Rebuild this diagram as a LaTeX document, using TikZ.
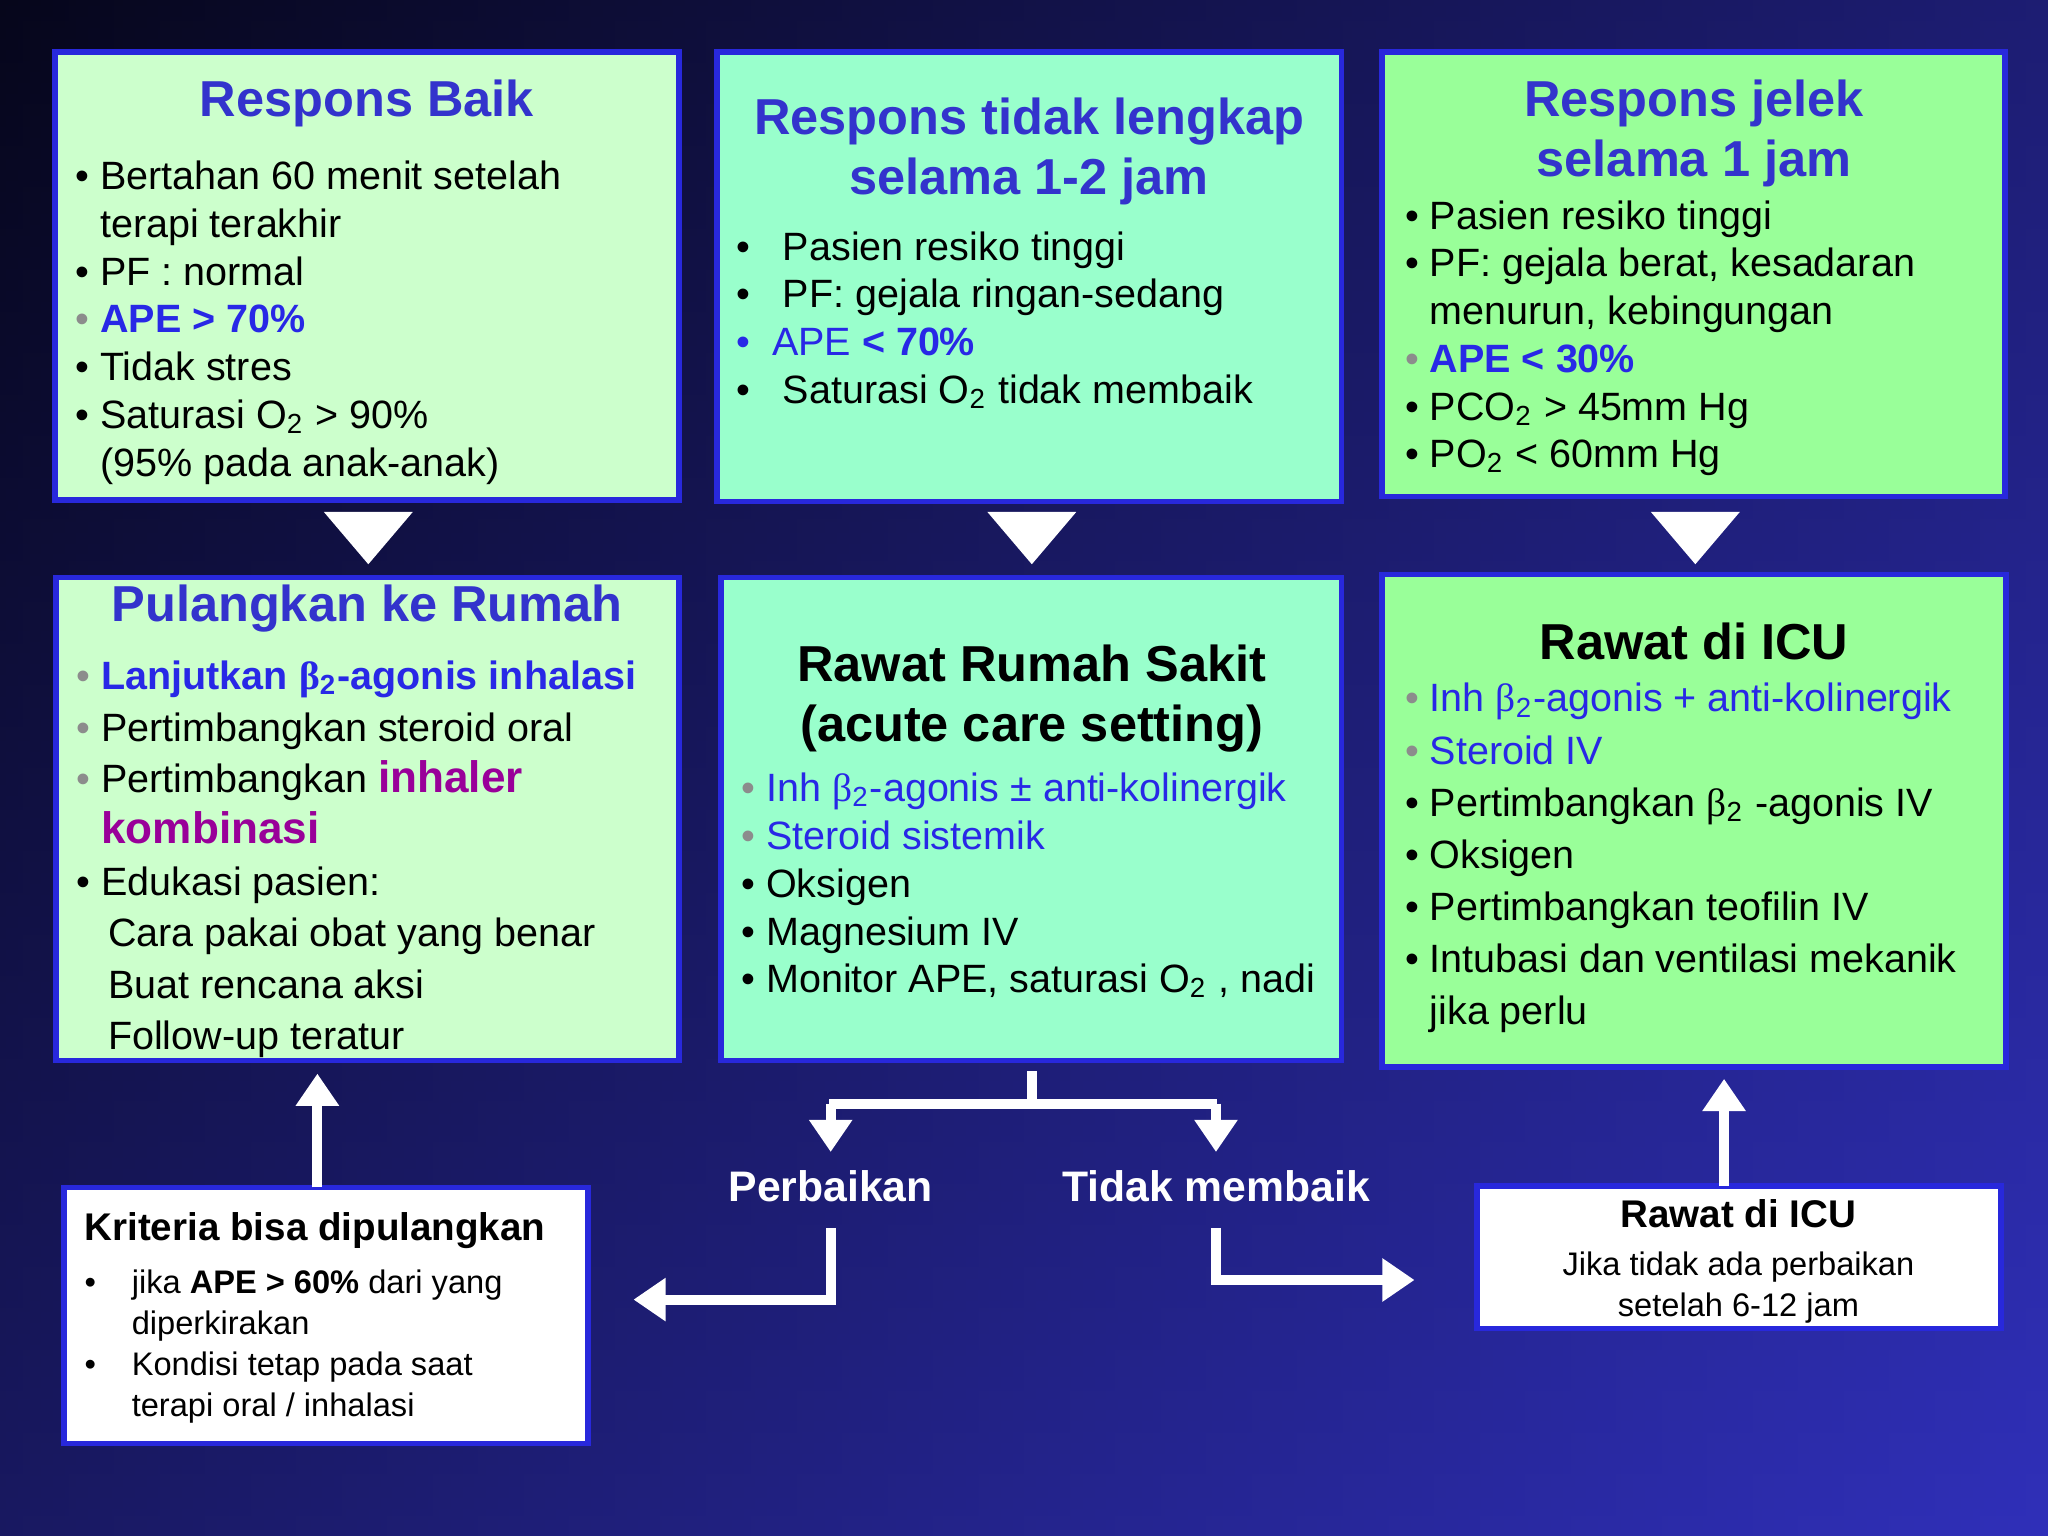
\documentclass[tikz,border=0pt]{standalone}
\usepackage{fontspec}
\setmainfont{Liberation Sans}
\newfontfamily\grk{Liberation Serif}
\usetikzlibrary{arrows.meta}
\definecolor{ttl}{RGB}{51,51,204}
\definecolor{apeb}{RGB}{40,40,230}
\definecolor{purp}{RGB}{153,0,153}
\definecolor{gb}{RGB}{140,140,140}
\definecolor{gA}{RGB}{204,255,204}
\definecolor{gB}{RGB}{153,255,204}
\definecolor{gC}{RGB}{153,255,153}
\newcommand\bu{\textbullet\ }
\newcommand\gbu{{\color{gb}\textbullet}\ }
\newcommand\ind{\phantom{\textbullet\ }}
\newcommand\sub[1]{\textsubscript{#1}}
\newcommand\bet{{\grk β}}
\begin{document}
\begin{tikzpicture}[x=0.01cm,y=-0.01cm,
 box/.style={draw={rgb,255:red,40;green,40;blue,220},line width=1.2pt},
 ttlf/.style={font=\fontsize{11pt}{13pt}\selectfont\bfseries,text=ttl,align=center},
 body/.style={font=\fontsize{8.6pt}{10.4pt}\selectfont,align=left,anchor=west,inner sep=0},
 small/.style={font=\fontsize{7.1pt}{8.9pt}\selectfont,align=left,anchor=west,inner sep=0},
 tri/.style={fill=white},
 wl/.style={white,line width=2.2pt},
 wa/.style={white,line width=2.2pt,-{Triangle[length=7pt,width=9pt]}}]
\shade[top color={rgb,255:red,8;green,8;blue,30},bottom color={rgb,255:red,45;green,45;blue,170}] (0,0) rectangle (1568,1176);
\shade[left color={rgb,255:red,5;green,5;blue,25},right color={rgb,255:red,50;green,50;blue,200},opacity=0.5] (0,0) rectangle (1568,1176);
% boxes
\filldraw[box,fill=gA] (42,40) rectangle (520,383);
\filldraw[box,fill=gB] (549,40) rectangle (1027,384);
\filldraw[box,fill=gC] (1058,40) rectangle (1535,380);
\filldraw[box,fill=gA] (43,442) rectangle (520,812);
\filldraw[box,fill=gB] (552,442) rectangle (1027,812);
\filldraw[box,fill=gC] (1058,440) rectangle (1536,817);
\filldraw[box,fill=white] (49,909) rectangle (450,1105);
\filldraw[box,fill=white] (1131,908) rectangle (1532,1017);
% triangles
\fill[tri] (248,392) -- (316,392) -- (282,432) -- cycle;
\fill[tri] (756,392) -- (824,392) -- (790,432) -- cycle;
\fill[tri] (1264,392) -- (1332,392) -- (1298,432) -- cycle;
% box1
\node[ttlf] (t1) at (281,79) {Respons Baik};
\node[body] (b1) at (57,247) {\bu Bertahan 60 menit setelah\\\ind terapi terakhir\\\bu PF : normal\\\gbu{\color{apeb}\bfseries APE > 70\%}\\\bu Tidak stres\\\bu Saturasi O\sub{2} > 90\%\\\ind (95\% pada anak-anak)};
% box2
\node[ttlf] (t2) at (788,116) {Respons tidak lengkap\\selama 1-2 jam};
\node[body] (b2) at (563,245) {\bu\ \ Pasien resiko tinggi\\\bu\ \ PF: gejala ringan-sedang\\{\color{apeb}\textbullet\ \ APE {\bfseries< 70\%}}\\\bu\ \ Saturasi O\sub{2} tidak membaik};
% box3
\node[ttlf] (t3) at (1297,102) {Respons jelek\\selama 1 jam};
\node[body] (b3) at (1075,259) {\bu Pasien resiko tinggi\\\bu PF: gejala berat, kesadaran\\\ind menurun, kebingungan\\\gbu{\color{apeb}\bfseries APE < 30\%}\\\bu PCO\sub{2} > 45mm Hg\\\bu PO\sub{2} < 60mm Hg};
% box4
\node[ttlf] (t4) at (281,466) {Pulangkan ke Rumah};
\node[body,font=\fontsize{8.6pt}{11.2pt}\selectfont] (b4) at (58,658) {\gbu{\color{apeb}\bfseries Lanjutkan \bet\sub{2}-agonis inhalasi}\\\gbu Pertimbangkan steroid oral\\\gbu Pertimbangkan {\color{purp}\bfseries\fontsize{9.6pt}{11pt}\selectfont inhaler}\\\ind{\color{purp}\bfseries\fontsize{9.6pt}{11pt}\selectfont kombinasi}\\\bu Edukasi pasien:\\\ind\,Cara pakai obat yang benar\\\ind\,Buat rencana aksi\\\ind\,Follow-up teratur};
% box5
\node[ttlf,text=black] (t5) at (790,535) {Rawat Rumah Sakit\\(acute care setting)};
\node[body] (b5) at (567,678) {\gbu{\color{apeb}Inh \bet\sub{2}-agonis ± anti-kolinergik}\\\gbu{\color{apeb}Steroid sistemik}\\\bu Oksigen\\\bu Magnesium IV\\\bu Monitor APE, saturasi O\sub{2} , nadi};
% box6
\node[ttlf,text=black] (t6) at (1297,491) {Rawat di ICU};
\node[body,font=\fontsize{8.6pt}{11.35pt}\selectfont] (b6) at (1075,657) {\gbu{\color{apeb}Inh \bet\sub{2}-agonis + anti-kolinergik}\\\gbu{\color{apeb}Steroid IV}\\\bu Pertimbangkan \bet\sub{2} -agonis IV\\\bu Oksigen\\\bu Pertimbangkan teofilin IV\\\bu Intubasi dan ventilasi mekanik\\\ind jika perlu};
% box7
\node[font=\fontsize{8.4pt}{10pt}\selectfont\bfseries,anchor=west,inner sep=0] (t7) at (64,942) {Kriteria bisa dipulangkan};
\node[small] (b7) at (64,1031) {\textbullet\hspace{1.1em}jika \textbf{APE > 60\%} dari yang\\\phantom{\textbullet}\hspace{1.1em}diperkirakan\\\textbullet\hspace{1.1em}Kondisi tetap pada saat\\\phantom{\textbullet}\hspace{1.1em}terapi oral / inhalasi};
% box8
\node[font=\fontsize{8.4pt}{10pt}\selectfont\bfseries] (t8) at (1331,929) {Rawat di ICU};
\node[font=\fontsize{7.1pt}{8.9pt}\selectfont,align=center] (b8) at (1331,986) {Jika tidak ada perbaikan\\setelah 6-12 jam};
% labels
\node[font=\fontsize{9.3pt}{11pt}\selectfont\bfseries,text=white] (p) at (636,908) {Perbaikan};
\node[font=\fontsize{9.3pt}{11pt}\selectfont\bfseries,text=white] (tm) at (931,908) {Tidak membaik};
% arrows
\coordinate (c1) at (243,822);
\draw[wa] (243,909) -- (c1);
\coordinate (c2) at (1320,826);
\draw[wa] (1320,908) -- (c2);
\draw[wl] (790,820) -- (790,845);
\draw[wl] (635,845) -- (932,845);
\draw[wa] (636,845) -- (636,882);
\draw[wa] (931,845) -- (931,882);
\coordinate (c3) at (485,995);
\coordinate (c4) at (1083,980);
\draw[wa] (636,940) -- (636,995) -- (c3);
\draw[wa] (931,940) -- (931,980) -- (c4);
\end{tikzpicture}
\end{document}
